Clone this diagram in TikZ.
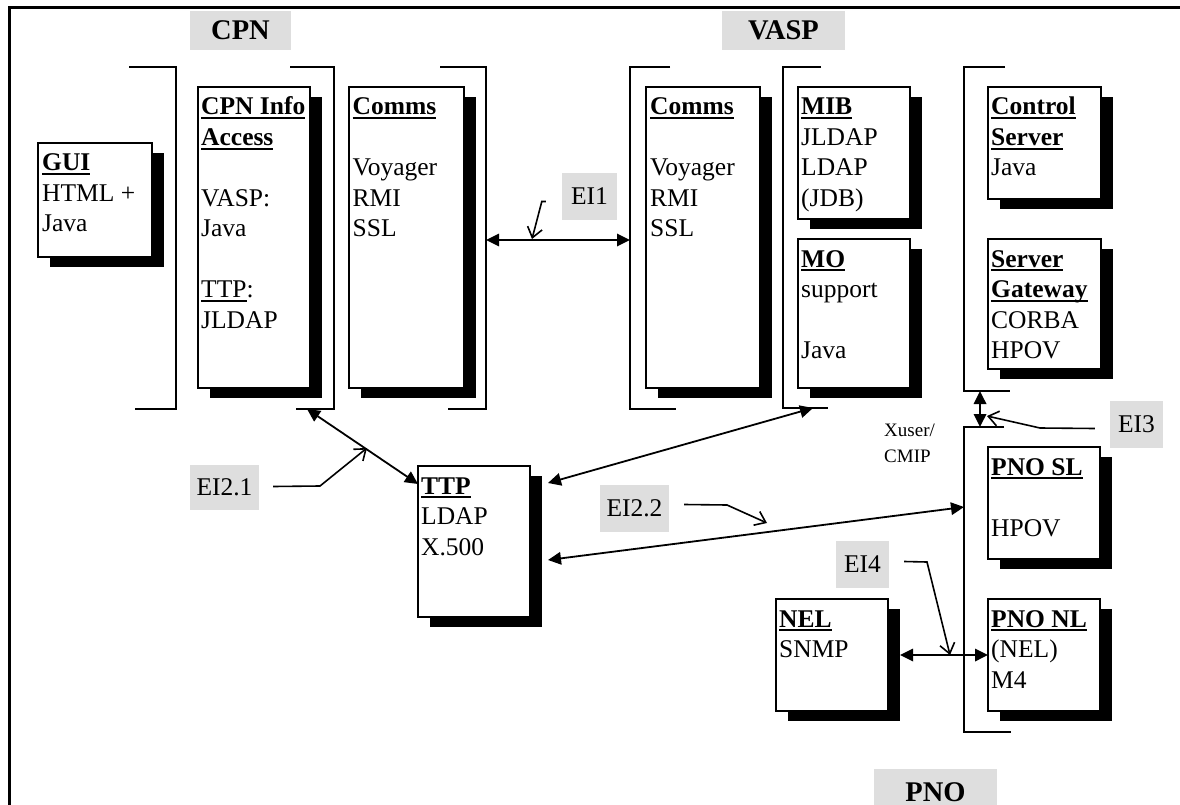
\documentclass[tikz,border=0pt]{standalone}
\usepackage{fontspec}
\setmainfont{Liberation Serif}
\usetikzlibrary{arrows.meta,shadows,calc}
\definecolor{lblgray}{HTML}{DEDEDE}
\newcommand\myul[1]{\setbox0\hbox{#1}\rlap{\rule[-0.17em]{\wd0}{0.09em}}\box0}
\newcommand\lines[1]{\begin{tabular}[t]{@{}l@{}}#1\end{tabular}}
\begin{document}
\begin{tikzpicture}[x=1pt,y=-1pt,
  box/.style={draw, line width=1.4pt, fill=white, anchor=north west, inner sep=0pt, outer sep=0pt,
    drop shadow={shadow xshift=12pt, shadow yshift=-10pt, fill=black, opacity=1}},
  txt/.style={anchor=base west, inner sep=0pt, font=\fontsize{25.5}{30.5}\selectfont},
  lbl/.style={fill=lblgray, inner sep=0pt, font=\fontsize{25.5}{30}\selectfont},
  hdr/.style={fill=lblgray, inner sep=0pt, font=\fontsize{28.5}{32}\selectfont\bfseries},
  brk/.style={line width=1.5pt},
  dbl/.style={line width=1.8pt, {Triangle[length=13pt,width=12.5pt]}-{Triangle[length=13pt,width=12.5pt]}},
  ptr/.style={line width=1.6pt, -{Straight Barb[length=10pt,width=15pt]}}]
\useasboundingbox (0,0) rectangle (1180,805);
% frame
\draw[line width=3pt] (9,815) -- (9,8) -- (1190,8);
% headers
\node[hdr, minimum width=101pt, minimum height=39pt] (cpn) at (240.5,30.5) {CPN};
\node[hdr, minimum width=123pt, minimum height=39pt] (vasp) at (783.5,30.5) {VASP};
\node[hdr, minimum width=123pt, minimum height=46pt] (pno) at (935.5,792) {PNO};
% brackets
\draw[brk] (129,67) -- (176,67) -- (176,409) -- (135,409);
\draw[brk] (290,67) -- (334,67) -- (334,409) -- (296,409);
\draw[brk] (440,67) -- (486,67) -- (486,409) -- (448,409);
\draw[brk] (670,67) -- (630,67) -- (630,409) -- (676,409);
\draw[brk] (821,67) -- (783,67) -- (783,408) -- (828,408);
\draw[brk] (1005,67) -- (964,67) -- (964,391) -- (1010,391);
\draw[brk] (1004,427) -- (964,427) -- (964,732) -- (1011,732);
% boxes
\node[box, minimum width=114pt, minimum height=114pt] (gui) at (38,143) {};
\node[box, minimum width=112pt, minimum height=301pt] (cpninfo) at (198,87) {};
\node[box, minimum width=115pt, minimum height=301pt] (comms1) at (349,87) {};
\node[box, minimum width=114pt, minimum height=301pt] (comms2) at (646,87) {};
\node[box, minimum width=112pt, minimum height=132pt] (mib) at (798,87) {};
\node[box, minimum width=112pt, minimum height=149pt] (mo) at (798,239) {};
\node[box, minimum width=113pt, minimum height=112pt] (ctrl) at (988,87) {};
\node[box, minimum width=113pt, minimum height=130pt] (sgw) at (988,239) {};
\node[box, minimum width=112pt, minimum height=151pt] (ttp) at (418,466) {};
\node[box, minimum width=112pt, minimum height=112pt] (pnosl) at (988,447) {};
\node[box, minimum width=112pt, minimum height=112pt] (pnonl) at (988,599) {};
\node[box, minimum width=112pt, minimum height=112pt] (nel) at (776,599) {};
% box texts
\node[txt] (gui-t) at ($(gui.north west)+(4,28)$) {\lines{\myul{\textbf{GUI}}\\HTML +\\Java}};
\node[txt] (cpninfo-t) at ($(cpninfo.north west)+(3,28)$) {\lines{\myul{\textbf{CPN Info}}\\\myul{\textbf{Access}}\\[30.5pt]VASP:\\Java\\[30.5pt]\myul{TTP}:\\JLDAP}};
\node[txt] (comms1-t) at ($(comms1.north west)+(3.5,28)$) {\lines{\myul{\textbf{Comms}}\\[30.5pt]Voyager\\RMI\\SSL}};
\node[txt] (comms2-t) at ($(comms2.north west)+(4,28)$) {\lines{\myul{\textbf{Comms}}\\[30.5pt]Voyager\\RMI\\SSL}};
\node[txt] (mib-t) at ($(mib.north west)+(3,28)$) {\lines{\myul{\textbf{MIB}}\\JLDAP\\LDAP\\(JDB)}};
\node[txt] (mo-t) at ($(mo.north west)+(3,28)$) {\lines{\myul{\textbf{MO}}\\support\\[30.5pt]Java}};
\node[txt] (ctrl-t) at ($(ctrl.north west)+(3,28)$) {\lines{\myul{\textbf{Control}}\\\myul{\textbf{Server}}\\Java}};
\node[txt] (sgw-t) at ($(sgw.north west)+(3,28)$) {\lines{\myul{\textbf{Server}}\\\myul{\textbf{Gateway}}\\CORBA\\HPOV}};
\node[txt] (ttp-t) at ($(ttp.north west)+(3,28)$) {\lines{\myul{\textbf{TTP}}\\LDAP\\X.500}};
\node[txt] (pnosl-t) at ($(pnosl.north west)+(3,28)$) {\lines{\myul{\textbf{PNO SL}}\\[30.5pt]HPOV}};
\node[txt] (pnonl-t) at ($(pnonl.north west)+(3,28)$) {\lines{\myul{\textbf{PNO NL}}\\(NEL)\\M4}};
\node[txt] (nel-t) at ($(nel.north west)+(3,28)$) {\lines{\myul{\textbf{NEL}}\\SNMP}};
% small label
\node[anchor=base west, inner sep=0pt, font=\fontsize{19}{26}\selectfont] (xuser) at (884,436) {\lines{Xuser/\\CMIP}};
% EI labels
\node[lbl, minimum width=55pt, minimum height=47pt] (ei1) at (589.5,196.5) {EI1};
\node[lbl, minimum width=69pt, minimum height=45pt] (ei21) at (224.5,487.5) {EI2.1};
\node[lbl, minimum width=69pt, minimum height=47pt] (ei22) at (634.5,508.5) {EI2.2};
\node[lbl, minimum width=53pt, minimum height=47pt] (ei3) at (1136.5,424.5) {EI3};
\node[lbl, minimum width=53pt, minimum height=47pt] (ei4) at (862.5,564.5) {EI4};
% attach coordinates
\coordinate (b3) at (486,240);
\coordinate (b4) at (630,240);
\coordinate (b2) at (307,409);
\coordinate (ttpA) at ($(ttp.north west)+(0,18)$);
\coordinate (b5) at (813,408);
\coordinate (ttpB) at ($(ttp.north east)+(18,17)$);
\coordinate (b7) at (964,507);
\coordinate (ttpC) at ($(ttp.north east)+(18,94)$);
\coordinate (b6) at (980,391);
\coordinate (b7t) at (980,427);
\coordinate (nelE) at ($(nel.east)+(12,0)$);
% double arrows
\draw[dbl] (b3) -- (b4);
\draw[dbl] (b2) -- (ttpA);
\draw[dbl] (b5) -- (ttpB);
\draw[dbl] (b7) -- (ttpC);
\draw[dbl] (b6) -- (b7t);
\draw[dbl] (nelE) -- (pnonl.west);
% pointers
\coordinate (p1) at (532,239);
\coordinate (p21) at (367,448);
\coordinate (p22) at (767,523);
\coordinate (p3) at (987,416);
\coordinate (p4) at (950,655);
\draw[ptr] ($(ei1.west)+(-16,5)$) -- ++(-4,0) -- (p1);
\draw[ptr] ($(ei21.east)+(14,-1)$) -- (320,486) -- (p21);
\draw[ptr] ($(ei22.east)+(15,-4)$) -- (727,505) -- (p22);
\draw[ptr] ($(ei3.west)+(-15,4)$) -- (1040,428) -- (p3);
\draw[ptr] ($(ei4.east)+(15,-3)$) -- (927,562) -- (p4);
\end{tikzpicture}
\end{document}
